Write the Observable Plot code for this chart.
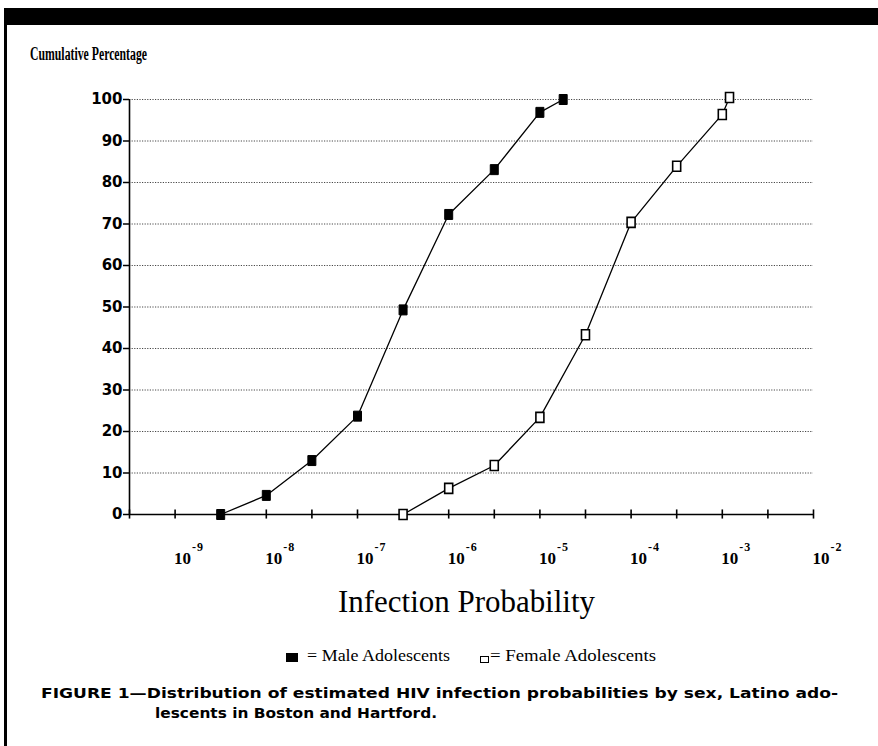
<!DOCTYPE html>
<html>
<head>
<meta charset="utf-8">
<script src="https://cdn.jsdelivr.net/npm/d3@7"></script>
<script src="https://cdn.jsdelivr.net/npm/@observablehq/plot@0.6"></script>
<style>
  html, body { margin: 0; padding: 0; background: #fff; }
  #wrap { position: relative; width: 878px; height: 746px; overflow: hidden; background: #fff; }
  .t { position: absolute; white-space: nowrap; line-height: 1; color: #000; }
  .serif { font-family: "Liberation Serif", "DejaVu Serif", serif; }
  .sans { font-family: "DejaVu Sans", "Liberation Sans", sans-serif; font-weight: bold; }
</style>
</head>
<body>
<div id="wrap">
  <div id="chart" style="position:absolute;left:0;top:0;"></div>
  <div style="position:absolute;left:4px;top:8px;right:0;height:17px;background:#000;"></div>
  <div style="position:absolute;left:4px;top:8px;bottom:0;width:2.5px;background:#000;"></div>

  <div class="t serif" data-w="117" style="left:30px;top:45px;font-size:18px;font-weight:bold;">Cumulative Percentage</div>

  <div class="t serif" data-w="257" data-c="466" style="top:586px;font-size:31px;">Infection Probability</div>

  <div style="position:absolute;left:286px;top:653px;width:12px;height:9px;background:#000;"></div>
  <div class="t serif" data-w="143" style="left:307px;top:647px;font-size:17.5px;">= Male Adolescents</div>
  <div style="position:absolute;left:480px;top:656px;width:9px;height:7px;box-sizing:border-box;border:1.4px solid #000;background:#fff;"></div>
  <div class="t serif" data-w="166" style="left:490px;top:647px;font-size:17.5px;">= Female Adolescents</div>

  <div class="t sans" data-w="797" style="left:41px;top:686px;font-size:14.5px;">FIGURE 1—Distribution of estimated HIV infection probabilities by sex, Latino ado-</div>
  <div class="t sans" data-w="282" style="left:155px;top:706px;font-size:14.5px;">lescents in Boston and Hartford.</div>
</div>
<script>
// ---- data ----
const maleProb   = [3.16e-9, 1e-8, 3.16e-8, 1e-7, 3.16e-7, 1e-6, 3.16e-6, 1e-5, 1.8e-5];
const maleCum    = [0, 4.6, 13, 23.7, 49.3, 72.3, 83.1, 96.9, 100];
const femaleProb = [3.16e-7, 1e-6, 3.16e-6, 1e-5, 3.16e-5, 1e-4, 3.16e-4, 1e-3, 1.2e-3];
const femaleCum  = [0, 6.3, 11.8, 23.4, 43.3, 70.4, 83.9, 96.4, 100.5];

const yTicks = [0, 10, 20, 30, 40, 50, 60, 70, 80, 90, 100];
const gridY  = [10, 20, 30, 40, 50, 60, 70, 80, 90, 100];
const xTicks = [3.162e-10, 1e-9, 3.162e-9, 1e-8, 3.162e-8, 1e-7, 3.162e-7, 1e-6,
                3.162e-6, 1e-5, 3.162e-5, 1e-4, 3.162e-4, 1e-3, 3.162e-3, 1e-2];
const decades   = [1e-9, 1e-8, 1e-7, 1e-6, 1e-5, 1e-4, 1e-3, 1e-2];
const expLabels = ["-\u200A9", "-\u200A8", "-\u200A7", "-\u200A6", "-\u200A5", "-\u200A4", "-\u200A3", "-\u200A2"];
const xDomain = [3.162e-10, 1e-2];

const male   = maleProb.map((p, i) => ({p, v: maleCum[i]}));
const female = femaleProb.map((p, i) => ({p, v: femaleCum[i]}));
const decadeRows = decades.map((d, i) => ({d, e: expLabels[i]}));

const tallSquare = {
  draw(ctx) { ctx.moveTo(-4, -5); ctx.lineTo(4, -5); ctx.lineTo(4, 5); ctx.lineTo(-4, 5); ctx.closePath(); }
};

const serif = "Liberation Serif, DejaVu Serif, serif";

const chart = Plot.plot({
  width: 878,
  height: 580,
  marginLeft: 129,
  marginRight: 65,
  marginTop: 99,
  marginBottom: 66,
  style: {background: "transparent", overflow: "visible", fontFamily: "DejaVu Sans", fontWeight: "bold", fontSize: "15px", color: "#000"},
  x: {type: "log", domain: xDomain, axis: null},
  y: {domain: [0, 100], axis: null},
  marks: [
    Plot.ruleY(gridY, {stroke: "#333", strokeWidth: 0.9, strokeDasharray: "1.2,1.4"}),
    Plot.ruleY([0], {stroke: "#000", strokeWidth: 1.6}),
    Plot.ruleX([xDomain[0]], {y1: 0, y2: 100, stroke: "#000", strokeWidth: 1.6}),
    Plot.ruleX(xTicks, {y1: -1.1, y2: 1.1, stroke: "#000", strokeWidth: 1.6}),
    Plot.axisY({ticks: yTicks, label: null, tickSize: 6, tickPadding: 1, strokeWidth: 1.5, fontSize: 15, fontWeight: "bold", fontFamily: "DejaVu Sans"}),
    Plot.text(decadeRows, {x: "d", y: 0, text: () => "10", dx: -1, dy: 49, textAnchor: "start", lineAnchor: "bottom",
      fontFamily: serif, fontSize: 17, fontWeight: "bold", fill: "#000"}),
    Plot.text(decadeRows, {x: "d", y: 0, text: "e", dx: 17, dy: 36, textAnchor: "start", lineAnchor: "bottom",
      fontFamily: serif, fontSize: 12, fontWeight: "bold", fill: "#000"}),
    Plot.line(male, {x: "p", y: "v", stroke: "#000", strokeWidth: 1.3}),
    Plot.line(female, {x: "p", y: "v", stroke: "#000", strokeWidth: 1.3}),
    Plot.dot(male, {x: "p", y: "v", symbol: tallSquare, fill: "#000", stroke: "#000", strokeWidth: 1}),
    Plot.dot(female, {x: "p", y: "v", symbol: tallSquare, fill: "#fff", stroke: "#000", strokeWidth: 1.6})
  ]
});
document.getElementById("chart").appendChild(chart);

// fit text widths to the reference
document.querySelectorAll("[data-w]").forEach(el => {
  const w = el.getBoundingClientRect().width;
  const target = +el.dataset.w;
  el.style.transformOrigin = "0 0";
  el.style.transform = `scaleX(${target / w})`;
  if (el.dataset.c) el.style.left = (+el.dataset.c - target / 2) + "px";
});
</script>
</body>
</html>
